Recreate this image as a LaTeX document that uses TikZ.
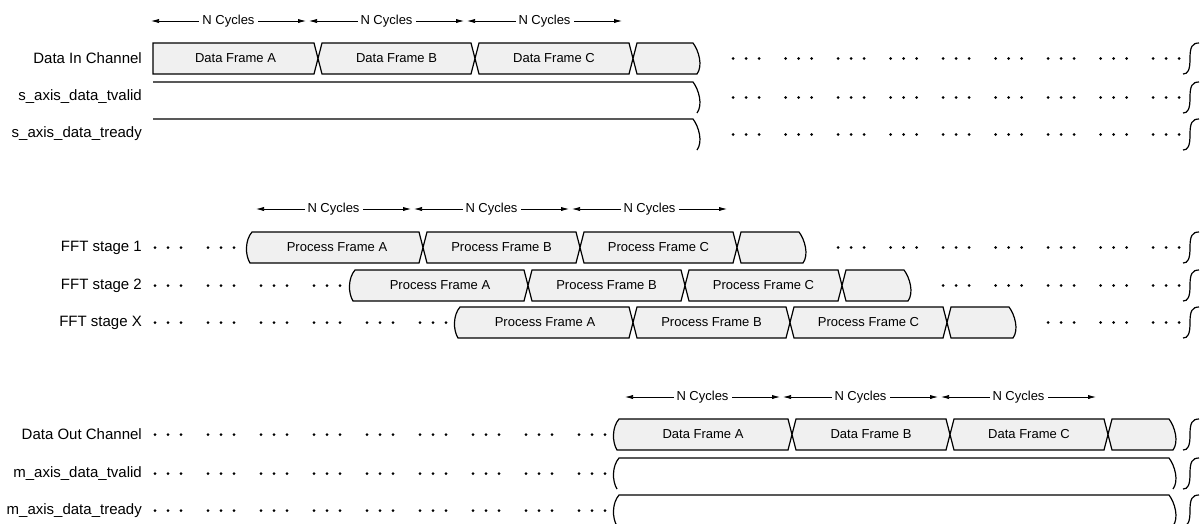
\documentclass[tikz,border=0pt]{standalone}
\usepackage{fontspec}
\setmainfont{Liberation Sans}
\usetikzlibrary{arrows.meta}
\definecolor{boxgray}{RGB}{240,240,240}
\tikzset{
  frame/.style={draw=black, line width=1.2pt, fill=boxgray, line join=miter},
  sig/.style={draw=black, line width=1.2pt},
  brk/.style={draw=black, line width=1.2pt},
  cyc/.style={line width=0.75pt, {Latex[length=8pt,width=4.2pt]}-{Latex[length=8pt,width=4.2pt]}},
  lbl/.style={anchor=east, font=\fontsize{15}{18}\selectfont, inner sep=0pt},
  ftxt/.style={font=\fontsize{13}{15}\selectfont, inner sep=0pt},
  ctxt/.style={font=\fontsize{13}{15}\selectfont, fill=white, inner xsep=3pt, inner ysep=1pt},
}
% dot groups: start x, spacing, count, y
\newcommand{\mydotrow}[4]{\foreach \k in {1,...,#3}{\foreach \d in {0,13,26}{\fill ({#1+(\k-1)*#2+\d},#4) circle (1.5);}}}
% frame between two X transitions: c1, c2, top
\newcommand{\myxframe}[3]{\path[frame] (#1,{#3+15.5}) -- ({#1+4},#3) -- ({#2-4},#3) -- (#2,{#3+15.5}) -- ({#2-4},{#3+31}) -- ({#1+4},{#3+31}) -- cycle;}
% frame with wavy start: s, c, top
\newcommand{\mysframe}[3]{\path[frame] ({#1+5},#3) -- ({#2-4},#3) -- (#2,{#3+15.5}) -- ({#2-4},{#3+31}) -- ({#1+3},{#3+31}) .. controls ({#1-2},{#3+23}) and ({#1-2},{#3+8}) .. ({#1+5},#3) -- cycle;}
% frame with wavy end: c, e, top
\newcommand{\myeframe}[3]{\path[frame] (#1,{#3+15.5}) -- ({#1+4},#3) -- ({#2-4},#3) .. controls ({#2+2},{#3+8}) and ({#2+6},{#3+23}) .. (#2,{#3+31}) -- ({#1+4},{#3+31}) -- cycle;}
% final break mark at right: top
\newcommand{\myendbrk}[1]{\draw[brk] (1199,#1) .. controls (1192,#1) and (1190,{#1+4}) .. (1190,{#1+15.5}) .. controls (1190,{#1+27}) and (1188,{#1+31}) .. (1183,{#1+31});}
\begin{document}
\begin{tikzpicture}[x=1pt,y=-1pt]
\useasboundingbox (0,0) rectangle (1204,523);

% ---------------- Section 1 ----------------
\foreach \a [count=\i] in {151,309,467}{
  \coordinate (ta\i) at (\a,21);
  \coordinate (tb\i) at ({\a+155},21);
  \draw[cyc] (ta\i) -- (tb\i) node[midway, ctxt] (tc\i) {N Cycles};
}
\node[lbl] (lin) at (142,58.5) {Data In Channel};
\node[lbl] (lsv) at (142,97) {s\_axis\_data\_tvalid};
\node[lbl] (lsr) at (142,134) {s\_axis\_data\_tready};

\path[frame] (153,43) -- (314,43) -- (318,58.5) -- (314,74) -- (153,74) -- cycle;
\myxframe{318}{475}{43}
\myxframe{475}{633}{43}
\myeframe{633}{697}{43}
\node[ftxt] (dia) at (235.5,58.5) {Data Frame A};
\node[ftxt] (dib) at (396.5,58.5) {Data Frame B};
\node[ftxt] (dic) at (554,58.5) {Data Frame C};

\draw[sig] (153,82) -- (693,82) .. controls (699,90) and (703,105) .. (697,113);
\draw[sig] (153,119) -- (693,119) .. controls (699,127) and (703,142) .. (697,150);

\mydotrow{733}{52.5}{9}{58.5}
\mydotrow{733}{52.5}{9}{97.5}
\mydotrow{733}{52.5}{9}{134.5}
\myendbrk{43}
\myendbrk{82}
\myendbrk{119}

% ---------------- Section 2 ----------------
\foreach \a [count=\i] in {256,414,572}{
  \coordinate (fa\i) at (\a,209);
  \coordinate (fb\i) at ({\a+155},209);
  \draw[cyc] (fa\i) -- (fb\i) node[midway, ctxt] (fc\i) {N Cycles};
}
\node[lbl] (lf1) at (142,247.5) {FFT stage 1};
\node[lbl] (lf2) at (142,285.5) {FFT stage 2};
\node[lbl] (lfx) at (142,322.5) {FFT stage X};

\mysframe{247}{423}{232}
\myxframe{423}{580}{232}
\myxframe{580}{737}{232}
\myeframe{737}{803}{232}
\node[ftxt] (p1a) at (337,247.5) {Process Frame A};
\node[ftxt] (p1b) at (501.5,247.5) {Process Frame B};
\node[ftxt] (p1c) at (658.5,247.5) {Process Frame C};

\mysframe{350}{528}{270}
\myxframe{528}{685}{270}
\myxframe{685}{842}{270}
\myeframe{842}{908}{270}
\node[ftxt] (p2a) at (440,285.5) {Process Frame A};
\node[ftxt] (p2b) at (606.5,285.5) {Process Frame B};
\node[ftxt] (p2c) at (763.5,285.5) {Process Frame C};

\mysframe{455}{633}{307}
\myxframe{633}{790}{307}
\myxframe{790}{947}{307}
\myeframe{947}{1013}{307}
\node[ftxt] (pxa) at (545,322.5) {Process Frame A};
\node[ftxt] (pxb) at (711.5,322.5) {Process Frame B};
\node[ftxt] (pxc) at (868.5,322.5) {Process Frame C};

\mydotrow{155}{53}{2}{247.5}
\mydotrow{155}{53}{4}{285.5}
\mydotrow{155}{53}{6}{322.5}
\mydotrow{838}{52.5}{7}{247.5}
\mydotrow{943}{52.5}{5}{285.5}
\mydotrow{1048}{52.5}{3}{322.5}
\myendbrk{232}
\myendbrk{270}
\myendbrk{307}

% ---------------- Section 3 ----------------
\foreach \a [count=\i] in {625,783,941}{
  \coordinate (oa\i) at (\a,397);
  \coordinate (ob\i) at ({\a+155},397);
  \draw[cyc] (oa\i) -- (ob\i) node[midway, ctxt] (oc\i) {N Cycles};
}
\node[lbl] (lout) at (142,434.5) {Data Out Channel};
\node[lbl] (lmv) at (142,473.5) {m\_axis\_data\_tvalid};
\node[lbl] (lmr) at (142,510.5) {m\_axis\_data\_tready};

\mysframe{614}{792}{419}
\myxframe{792}{950}{419}
\myxframe{950}{1108}{419}
\myeframe{1108}{1173}{419}
\node[ftxt] (doa) at (703,434.5) {Data Frame A};
\node[ftxt] (dob) at (871,434.5) {Data Frame B};
\node[ftxt] (doc) at (1029,434.5) {Data Frame C};

\draw[sig] (617,489) .. controls (612,481) and (612,466) .. (619,458) -- (1169,458) .. controls (1175,466) and (1179,481) .. (1173,489);
\draw[sig] (617,526) .. controls (612,518) and (612,503) .. (619,495) -- (1169,495) .. controls (1175,503) and (1179,518) .. (1173,526);

\mydotrow{155}{53}{9}{434.5}
\mydotrow{155}{53}{9}{473.5}
\mydotrow{155}{53}{9}{510.5}
\myendbrk{419}
\myendbrk{458}
\myendbrk{495}
\end{tikzpicture}
\end{document}
